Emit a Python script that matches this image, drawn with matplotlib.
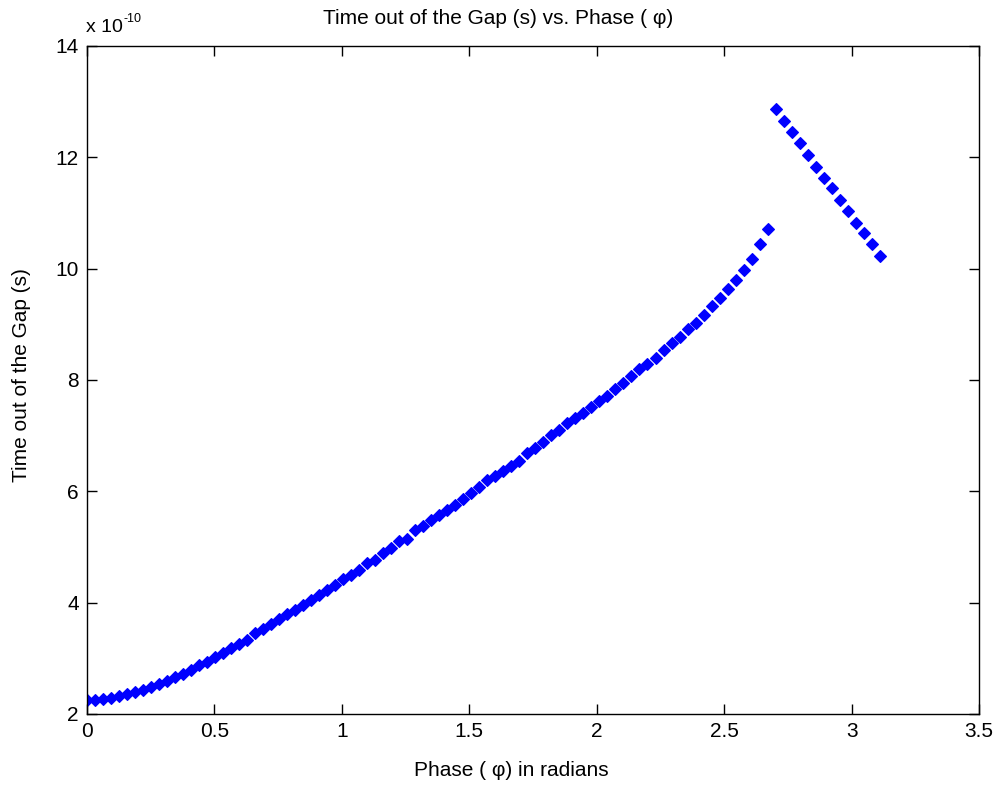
import numpy as np
import matplotlib
matplotlib.use("Agg")
import matplotlib.pyplot as plt

plt.rcParams['font.family'] = ['Liberation Sans', 'DejaVu Sans']

# phase sweep, pi/100 steps
n_pts = 100
phase = np.arange(n_pts) * np.pi / 100

# time out of the gap, in units of 1e-10 s
t_gap = [2.25, 2.25, 2.27, 2.28, 2.32, 2.35, 2.39, 2.43, 2.49, 2.54,
         2.59, 2.66, 2.72, 2.79, 2.88, 2.94, 3.02, 3.09, 3.19, 3.26,
         3.32, 3.45, 3.52, 3.61, 3.70, 3.79, 3.87, 3.96, 4.04, 4.14,
         4.22, 4.31, 4.42, 4.50, 4.59, 4.71, 4.77, 4.89, 4.98, 5.10,
         5.15, 5.30, 5.38, 5.48, 5.58, 5.67, 5.76, 5.87, 5.97, 6.07,
         6.20, 6.28, 6.36, 6.46, 6.55, 6.68, 6.77, 6.88, 7.02, 7.10,
         7.22, 7.32, 7.41, 7.52, 7.62, 7.72, 7.83, 7.94, 8.07, 8.19,
         8.28, 8.39, 8.53, 8.66, 8.78, 8.91, 9.03, 9.16, 9.32, 9.48,
         9.63, 9.80, 9.97, 10.18, 10.44, 10.71,
         12.86, 12.65, 12.45, 12.26, 12.05, 11.83, 11.63, 11.45, 11.24, 11.03,
         10.82, 10.64, 10.44, 10.23]

xticks = [0, 0.5, 1, 1.5, 2, 2.5, 3, 3.5]
xticklabels = ['0', '0.5', '1', '1.5', '2', '2.5', '3', '3.5']
yticks = [2, 4, 6, 8, 10, 12, 14]

fs = 15
fig = plt.figure(figsize=(9.98, 7.87), dpi=100)
ax = fig.add_axes([0.0872, 0.0928, 0.8938, 0.8488])

ax.plot(phase, t_gap, linestyle='none', marker='D', markersize=5.8,
        markerfacecolor='#0000ff', markeredgecolor='#0000ff', markeredgewidth=0.8)

ax.set_xlim(0, 3.5)
ax.set_ylim(2, 14)
ax.set_xticks(xticks)
ax.set_xticklabels(xticklabels)
ax.set_yticks(yticks)
ax.tick_params(direction='in', length=7, width=1, top=True, right=True,
               labelsize=fs, pad=6)
for s in ax.spines.values():
    s.set_linewidth(1)

# labels placed where they sit in the original
fig.text(511 / 998, 1 - 770 / 787, 'Phase ( \u03c6) in radians', fontsize=fs,
         ha='center', va='center')
fig.text(22 / 998, 1 - 375 / 787, 'Time out of the Gap (s)', fontsize=fs,
         ha='center', va='center', rotation=90)
fig.text(498 / 998, 1 - 18 / 787, 'Time out of the Gap (s) vs. Phase ( \u03c6)',
         fontsize=fs, ha='center', va='center')
fig.text(86 / 998, 1 - 28 / 787, 'x 10', fontsize=14, ha='left', va='center')
fig.text(123 / 998, 1 - 19 / 787, '-10', fontsize=9, ha='left', va='center')

fig.savefig('out.png', dpi=100)
